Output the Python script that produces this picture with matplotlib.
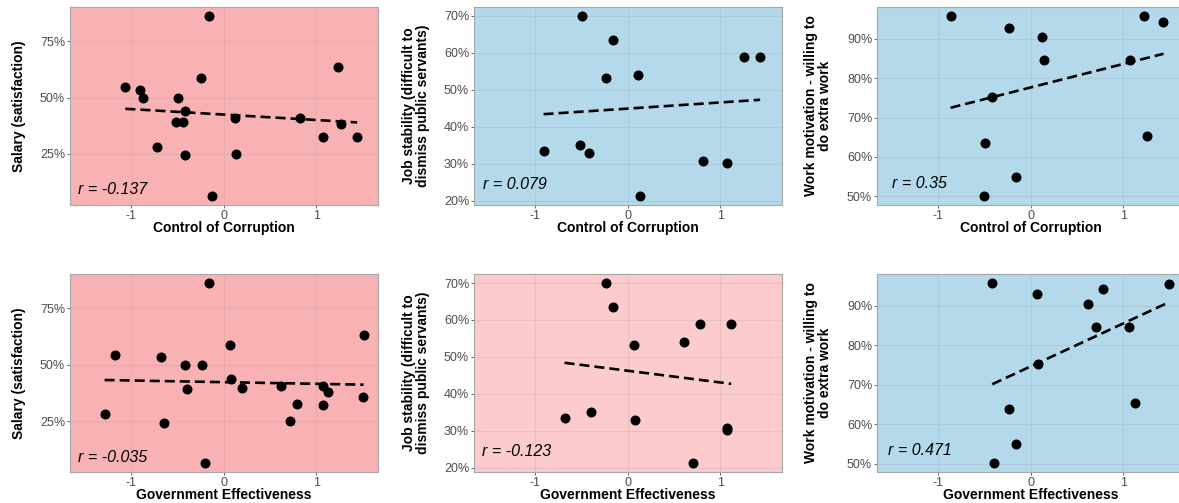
import matplotlib.pyplot as plt
import numpy as np
from matplotlib.ticker import FuncFormatter, MultipleLocator

plt.rcParams["font.family"] = ["Liberation Sans", "DejaVu Sans"]
plt.rcParams["axes.unicode_minus"] = False

RED = "#f9b2b4"
PINK = "#fbcbcd"
BLUE = "#b4d9ea"
TICK_GREY = "#4d4d4d"

# x: Control of Corruption
cc_salary_x = [-1.058, -0.903, -0.866, -0.722, -0.495, -0.513, -0.433, -0.419, -0.412, -0.238,
               -0.159, -0.119, 0.123, 0.137, 0.819, 1.076, 1.231, 1.264, 1.440]
cc_salary_y = [54.5, 53.4, 50.0, 28.0, 50.0, 39.3, 39.3, 44.1, 24.3, 58.6,
               86.3, 6.2, 40.7, 25.0, 40.8, 32.3, 63.4, 38.3, 32.6]

cc_stability_x = [-0.496, -0.158, -0.233, 0.118, 1.250, 1.429, -0.905, -0.510, -0.420, 0.811, 1.070, 0.129]
cc_stability_y = [70.0, 63.5, 53.1, 54.0, 59.0, 59.0, 33.5, 35.2, 33.0, 30.9, 30.3, 21.3]

cc_motivation_x = [-0.862, -0.233, 0.126, 0.140, 1.224, 1.433, 1.070, -0.420, -0.488, 1.250, -0.158, -0.503]
cc_motivation_y = [95.75, 92.8, 90.4, 84.5, 95.7, 94.2, 84.5, 75.2, 63.6, 65.2, 54.9, 50.1]

# x: Government Effectiveness
ge_salary_x = [-1.170, -1.282, -0.679, -0.639, -0.412, -0.394, -0.235, -0.155, -0.202, 0.072,
               0.083, 0.199, 0.621, 0.715, 0.791, 1.069, 1.072, 1.130, 1.509, 1.502]
ge_salary_y = [54.5, 28.0, 53.4, 24.3, 50.0, 39.3, 50.0, 86.3, 6.4, 58.6,
               43.8, 39.6, 40.8, 25.0, 32.6, 40.8, 32.3, 38.1, 63.4, 35.9]

ge_stability_x = [-0.230, -0.158, 0.075, 0.610, 0.786, 1.117, -0.679, -0.399, 0.079, 1.070, 1.077, 0.711]
ge_stability_y = [70.0, 63.5, 53.1, 54.0, 58.9, 58.9, 33.4, 35.1, 33.0, 30.8, 30.3, 21.3]

ge_motivation_x = [-0.413, 0.075, 0.618, 0.786, 1.494, 0.711, 1.066, 0.079, 1.124, -0.230, -0.158, -0.395]
ge_motivation_y = [95.7, 92.8, 90.3, 94.1, 95.5, 84.5, 84.5, 75.3, 65.3, 63.8, 55.0, 50.2]

x_titles = ["Control of Corruption", "Government Effectiveness"]
y_titles = ["Salary (satisfaction)",
            "Job stability (difficult to\ndismiss public servants)",
            "Work motivation - willing to\ndo extra work"]
r_labels = ["r = -0.137", "r = 0.079", "r = 0.35", "r = -0.035", "r = -0.123", "r = 0.471"]
panel_fills = [RED, BLUE, BLUE, RED, PINK, BLUE]
y_steps = [25, 10, 10]

series = [
    (cc_salary_x, cc_salary_y), (cc_stability_x, cc_stability_y), (cc_motivation_x, cc_motivation_y),
    (ge_salary_x, ge_salary_y), (ge_stability_x, ge_stability_y), (ge_motivation_x, ge_motivation_y),
]

W, H = 1179, 503
col_left = [70, 474, 877]
row_top = [7, 274]
ax_w, ax_h = 308, 198
ylab_off = [51, 58, 59]
r_pos = [(0.025, 0.054), (0.03, 0.08), (0.05, 0.086), (0.025, 0.052), (0.025, 0.08), (0.035, 0.086)]

fig = plt.figure(figsize=(W / 100, H / 100), dpi=100)

for k, (xs, ys) in enumerate(series):
    row, col = divmod(k, 3)
    ax = fig.add_axes([col_left[col] / W, 1 - (row_top[row] + ax_h) / H, ax_w / W, ax_h / H])
    ax.set_facecolor(panel_fills[k])
    xs, ys = np.asarray(xs), np.asarray(ys)

    ax.scatter(xs, ys, s=52, color="black", zorder=3, linewidths=0)
    slope, icpt = np.polyfit(xs, ys, 1)
    xl = np.array([xs.min(), xs.max()])
    ax.plot(xl, slope * xl + icpt, color="black", lw=1.9, dashes=(3.8, 1.9), zorder=2)

    ax.set_xlim(-1.655, 1.665)
    ax.margins(y=0.05)
    ax.xaxis.set_major_locator(MultipleLocator(1))
    ax.yaxis.set_major_locator(MultipleLocator(y_steps[col]))
    ax.yaxis.set_major_formatter(FuncFormatter(lambda v, _: f"{v:.0f}%"))
    ax.grid(True, color="#7f7f7f", alpha=0.13, lw=0.8)
    ax.set_axisbelow(True)
    ax.tick_params(labelsize=9, colors=TICK_GREY, length=2, width=0.6, pad=1.5)
    for s in ax.spines.values():
        s.set_color("#a8a8a8")
        s.set_linewidth(0.8)

    ax.set_xlabel(x_titles[row], fontsize=10, fontweight="bold", va="center")
    ax.xaxis.set_label_coords(0.5, -23 / ax_h)
    ax.set_ylabel(y_titles[col], fontsize=10, fontweight="bold", va="center", linespacing=1.0)
    ax.yaxis.set_label_coords(-ylab_off[col] / ax_w, 0.5)

    ax.text(r_pos[k][0], r_pos[k][1], r_labels[k], transform=ax.transAxes, fontsize=11.5,
            style="italic", va="baseline", ha="left", color="black")

fig.savefig("out.png", dpi=100)
